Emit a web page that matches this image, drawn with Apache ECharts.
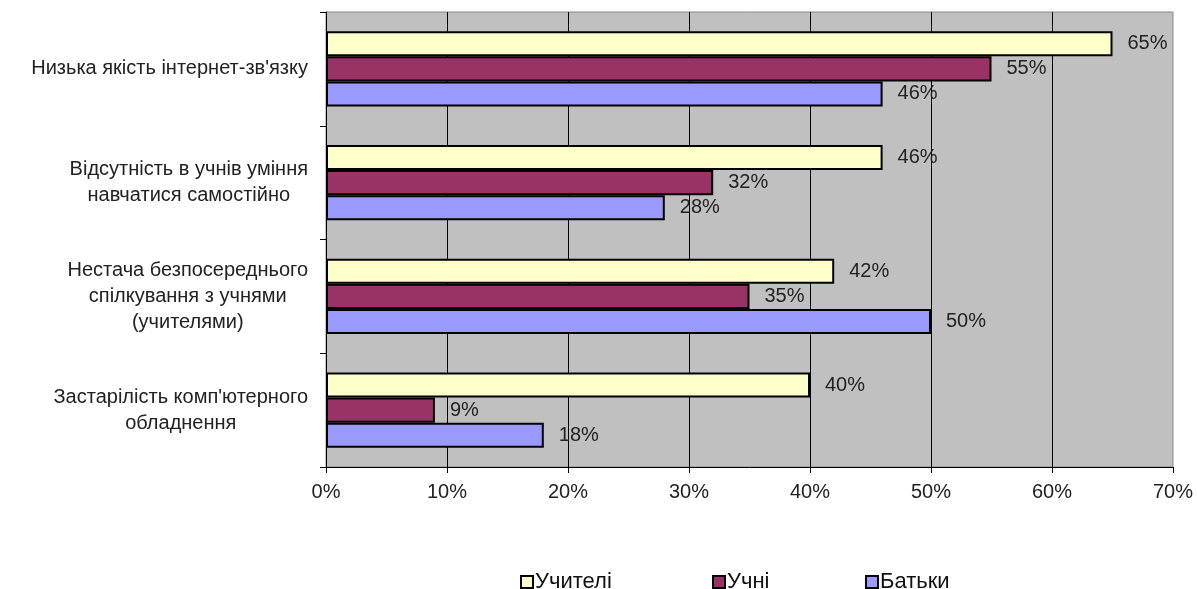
<!DOCTYPE html>
<html>
<head>
<meta charset="utf-8">
<script src="https://cdn.jsdelivr.net/npm/echarts@6/dist/echarts.min.js"></script>
<style>html,body{margin:0;padding:0;background:#fff}#c{width:1197px;height:589px}</style>
</head>
<body>
<div id="c"></div>
<script>
const categories = [
  "Низька якість інтернет-зв'язку",
  "Відсутність в учнів уміння\nнавчатися самостійно",
  "Нестача безпосереднього\nспілкування з учнями\n(учителями)",
  "Застарілість комп'ютерного\nобладнення"
];
const seriesNames = ["Учителі", "Учні", "Батьки"];
const teachers = [65, 46, 42, 40];
const students = [55, 32, 35, 9];
const parents = [46, 28, 50, 18];
const xTicks = [0, 10, 20, 30, 40, 50, 60, 70];

const colors = ['#FFFFCC', '#993366', '#9999FF'];
const legendLeft = [515, 707, 860];
const font = "'Liberation Sans', Arial, sans-serif";
const chart = echarts.init(document.getElementById('c'), null, {renderer: 'canvas'});

function mk(name, data, color) {
  return {
    name: name, type: 'bar', data: data,
    barGap: '0%', barCategoryGap: '34%',
    itemStyle: {color: color, borderColor: '#000', borderWidth: 2},
    label: {show: true, position: 'right', distance: 15, formatter: '{c}%',
      color: '#222', fontFamily: font, fontSize: 20},
    emphasis: {disabled: true}, animation: false
  };
}

chart.setOption({
  animation: false,
  textStyle: {fontFamily: font},
  grid: {left: 326, top: 12, right: 24, bottom: 122, show: true,
    backgroundColor: '#C0C0C0', borderColor: '#888', borderWidth: 1},
  legend: seriesNames.map((n, i) => ({
    left: legendLeft[i], top: 566, itemWidth: 12, itemHeight: 12, icon: 'rect',
    textStyle: {fontFamily: font, fontSize: 22, color: '#111', padding: [0, 0, 0, -3]},
    data: [{name: n, itemStyle: {color: colors[i], borderColor: '#000', borderWidth: 2}}]
  })),
  xAxis: {
    type: 'value', min: xTicks[0], max: xTicks[xTicks.length - 1], interval: 10,
    axisLine: {show: true, lineStyle: {color: '#000', width: 1}},
    axisTick: {show: true, length: 6, lineStyle: {color: '#000'}},
    axisLabel: {formatter: '{value}%', fontSize: 20, color: '#222', margin: 15, fontFamily: font},
    splitLine: {show: true, showMinLine: false, showMaxLine: false, lineStyle: {color: '#000', width: 1}}
  },
  yAxis: {
    type: 'category', data: categories, inverse: true,
    axisLine: {show: true, lineStyle: {color: '#000', width: 1}},
    axisTick: {show: true, length: 6, lineStyle: {color: '#000'}},
    axisLabel: {margin: 18, color: '#222', fontSize: 20, fontFamily: font, lineHeight: 26,
      formatter: v => v.split('\n').map(s => '{c|' + s + '}').join('\n'),
      rich: {c: {align: 'center', fontSize: 20, fontFamily: font, color: '#222', lineHeight: 26}}
    }
  },
  series: [mk(seriesNames[0], teachers, colors[0]), mk(seriesNames[1], students, colors[1]), mk(seriesNames[2], parents, colors[2])]
});
</script>
</body>
</html>
